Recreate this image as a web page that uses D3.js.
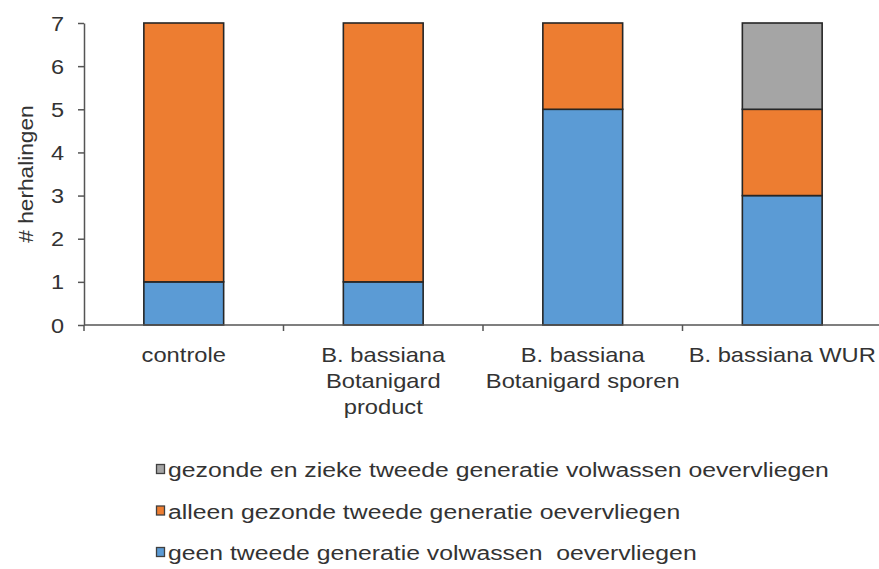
<!DOCTYPE html>
<html><head><meta charset="utf-8">
<script src="https://cdn.jsdelivr.net/npm/d3@7"></script>
<style>body{margin:0;background:#fff}svg{display:block}text{font-family:"Liberation Sans",Arial,sans-serif;fill:#333;white-space:pre}</style>
</head><body><svg id="c" width="879" height="569"></svg>
<script>
const categories = [["controle"],["B. bassiana","Botanigard","product"],["B. bassiana","Botanigard sporen"],["B. bassiana WUR"]];
const catKeys = ["controle","Botanigard product","Botanigard sporen","WUR"];
const geen = [1,1,5,3];
const alleen = [6,6,2,2];
const gezondeZieke = [0,0,0,2];
const seriesNames = ["geen tweede generatie volwassen  oevervliegen","alleen gezonde tweede generatie oevervliegen","gezonde en zieke tweede generatie volwassen oevervliegen"];
const colors = ["#5B9BD5","#ED7D31","#A5A5A5"];
const yTicks = [0,1,2,3,4,5,6,7];

const svg = d3.select("#c");
const FS = 21;
function stext(g, x, y, str, sx, anchor, rot){
  return g.append("text").attr("xml:space","preserve").attr("transform",`translate(${x},${y})${rot?` rotate(${rot})`:""} scale(${sx},1)`)
    .attr("text-anchor",anchor||"start").style("font-size",FS+"px").text(str);
}
const x = d3.scaleBand().domain(catKeys).range([84,882]).paddingInner(0.6).paddingOuter(0.3);
const y = d3.scaleLinear().domain([0,7]).range([325,23]);
const step = x.step();
const bandStart = k => x(k) - x.paddingInner()*step/2;

const data = catKeys.map((k,i)=>({key:k, s0:geen[i], s1:alleen[i], s2:gezondeZieke[i]}));
const stack = d3.stack().keys(["s0","s1","s2"])(data);

svg.append("g").selectAll("g").data(stack).join("g").attr("fill",(d,i)=>colors[i])
  .selectAll("rect").data(d=>d.filter(p=>p[1]-p[0]>0)).join("rect")
  .attr("x",d=>x(d.data.key)).attr("width",x.bandwidth())
  .attr("y",d=>y(d[1])).attr("height",d=>y(d[0])-y(d[1]))
  .attr("stroke","#262626").attr("stroke-width",1.6);

// y axis
const ya = svg.append("g").attr("transform","translate(84,0)")
  .call(d3.axisLeft(y).tickValues(yTicks).tickSize(6).tickSizeOuter(0).tickFormat(""));
ya.selectAll("path,line").attr("stroke","#555").attr("stroke-width",1.5);
yTicks.forEach(t=>stext(svg,64,y(t)+7.5,String(t),1.12,"end"));

// x axis
svg.append("line").attr("x1",84).attr("x2",879).attr("y1",y(0)).attr("y2",y(0)).attr("stroke","#555").attr("stroke-width",1.5);
const bounds = catKeys.map(bandStart).concat([bandStart(catKeys[3])+step]);
svg.append("g").selectAll("line").data(bounds).join("line")
  .attr("x1",d=>d).attr("x2",d=>d).attr("y1",y(0)).attr("y2",y(0)+6).attr("stroke","#555").attr("stroke-width",1.5);
categories.forEach((lines,i)=>{
  const cx = x(catKeys[i]) + x.bandwidth()/2;
  lines.forEach((l,j)=>stext(svg,cx,362+j*26,l,1.13,"middle"));
});

// y label
stext(svg,33,174,"# herhalingen",1.08,"middle",-90);

// legend
const legRows = [2,1,0];
legRows.forEach((si,r)=>{
  const by = 477 + r*41.5;
  svg.append("rect").attr("x",156.5).attr("y",by-12.5).attr("width",8).attr("height",9)
    .attr("fill",colors[si]).attr("stroke","#404040").attr("stroke-width",1.3);
  stext(svg,168,by,seriesNames[si],1.18,"start");
});
</script></body></html>
